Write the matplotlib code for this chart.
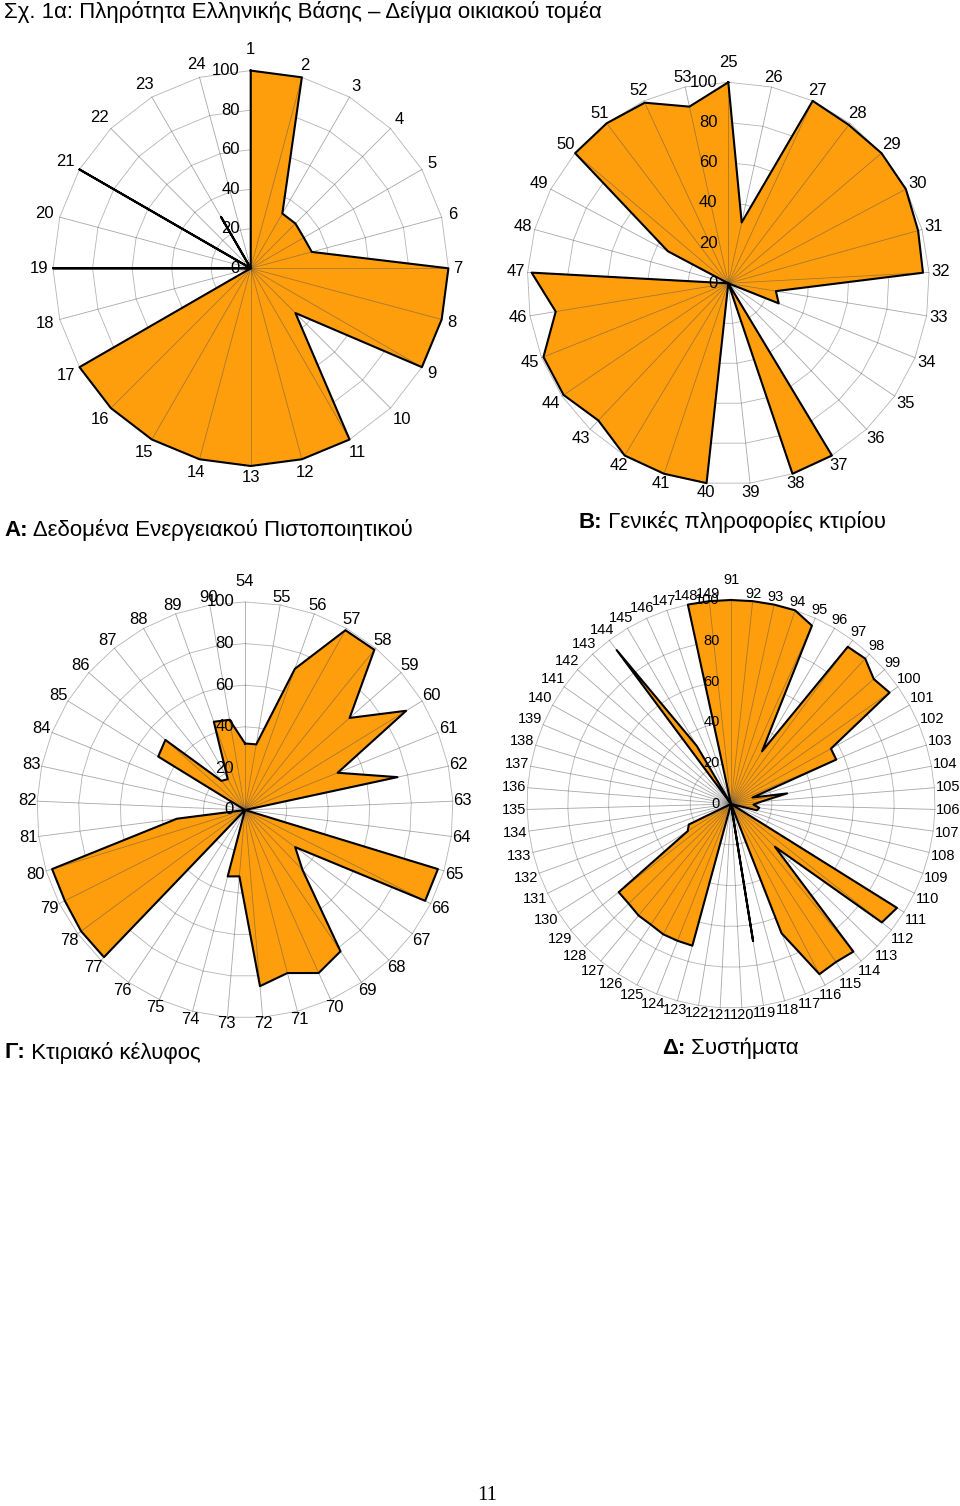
import numpy as np
import matplotlib
matplotlib.use('Agg')
import matplotlib.pyplot as plt
from matplotlib.transforms import offset_copy

W, H = 960, 1506
plt.rcParams['font.family'] = ['Liberation Sans', 'DejaVu Sans']

ORANGE = '#FF9E0D'
GRID = '#b4b4b4'

ticks = [0, 20, 40, 60, 80, 100]

# A: 1..24
cats_a = list(range(1, 25))
vals_a = [100, 100, 32, 32, 31, 32, 100, 100, 100, 32, 100, 100,
          100, 100, 100, 100, 100, 0, 100, 0, 100, 0, 30, 0]

# B: 25..53
cats_b = list(range(25, 54))
vals_b = [100, 31, 100, 99, 100, 100, 98, 97, 24, 27, 0, 0, 100, 100, 0,
          100, 100, 100, 94, 99, 99, 87, 98, 0, 34, 100, 100, 99, 90]

# C: 54..90
cats_c = list(range(54, 91))
vals_c = [32, 32, 72, 99, 99, 67, 91, 48, 75,
          0, 0, 97, 97, 30, 40, 82, 86, 81, 85,
          32, 33, 0, 0, 98, 98, 97, 97, 33,
          0, 0, 0, 49, 51, 18, 17, 45, 44]

# D: 91..149
cats_d = list(range(91, 150))
vals_d = [100, 100, 100, 100, 96, 30, 96, 97, 93, 95,
          56, 56, 11, 28, 15, 11, 14, 13, 0, 0,
          96, 94, 30, 94, 93, 94, 68, 0, 68, 0,
          0, 0, 72, 72, 72, 71, 71, 70, 70, 25,
          23, 0, 0, 0, 0, 0, 0, 0, 0, 0,
          0, 0, 0, 94, 33, 0, 0, 100, 100]

fig = plt.figure(figsize=(W / 100, H / 100), dpi=100)
bg = fig.add_axes([0, 0, 1, 1])
bg.axis('off')
bg.set_zorder(-1)


def radar(cx, cy, R, cats, vals, fs, pad, top_pad):
    ax = fig.add_axes([(cx - R) / W, 1 - (cy + R) / H, 2 * R / W, 2 * R / H],
                      projection='polar')
    ax.set_theta_zero_location('N')
    ax.set_theta_direction(-1)
    ax.set_ylim(0, 100)
    ax.set_xticks([])
    ax.set_yticks([])
    ax.grid(False)
    ax.spines['polar'].set_visible(False)

    n = len(cats)
    th = 2 * np.pi * np.arange(n) / n
    thc = np.append(th, th[0])
    for lev in ticks[1:]:
        ax.plot(thc, [lev] * (n + 1), color=GRID, lw=0.6, zorder=1, clip_on=False)
    v = np.append(vals, vals[0])
    ax.fill(thc, v, color=ORANGE, lw=0, zorder=2)
    for t in th:
        ax.plot([t, t], [0, 100], color='#505050', alpha=0.5, lw=0.6,
                zorder=3, clip_on=False)
    ax.plot(thc, v, color='black', lw=1.5, zorder=4, clip_on=False)

    tr = offset_copy(ax.transData, fig=fig, x=-11, y=0, units='dots')
    for lev in ticks:
        ax.text(0, lev, str(lev), transform=tr, ha='right', va='center',
                fontsize=fs, zorder=5)

    fs_px = fs * 100 / 72
    for i, (t, c) in enumerate(zip(th, cats)):
        s = str(c)
        w = len(s) * 0.556 * fs_px
        h = 0.72 * fs_px
        d = R + pad + (top_pad if i == 0 else 0) \
            + 0.5 * (abs(np.sin(t)) * w + abs(np.cos(t)) * h)
        ax.text(t, 100 * d / R, s, ha='center', va='center', fontsize=fs)
    return ax


radar(250.7, 268.3, 197.7, cats_a, vals_a, 12, 5, 10)
radar(728.3, 283.3, 201, cats_b, vals_b, 12, 2, 12)
radar(245, 810, 208, cats_c, vals_c, 12, 0, 15)
radar(731, 804, 204, cats_d, vals_d, 10.5, 1, 14)

bg.text(4 / W, 1 - 12 / H,
        'Σχ. 1α: Πληρότητα Ελληνικής Βάσης – Δείγμα οικιακού τομέα',
        fontsize=16, va='center', ha='left', transform=bg.transAxes)


def subtitle(x, y, bold, rest):
    t = bg.text(x / W, 1 - y / H, bold, fontsize=16, fontweight='bold',
                va='center', ha='left', transform=bg.transAxes)
    bg.annotate(rest, xy=(1, 0.5), xycoords=t, fontsize=16,
                va='center', ha='left')


subtitle(4, 530, 'Α:', ' Δεδομένα Ενεργειακού Πιστοποιητικού')
subtitle(578, 522, 'Β:', ' Γενικές πληροφορίες κτιρίου')
subtitle(4, 1053, 'Γ:', ' Κτιριακό κέλυφος')
subtitle(662, 1048, 'Δ:', ' Συστήματα')

bg.text(487 / W, 1 - 1495 / H, '11', family=['Liberation Serif'], fontsize=15,
        ha='center', va='center', transform=bg.transAxes)

fig.savefig('out.png', dpi=100)
plt.close(fig)
